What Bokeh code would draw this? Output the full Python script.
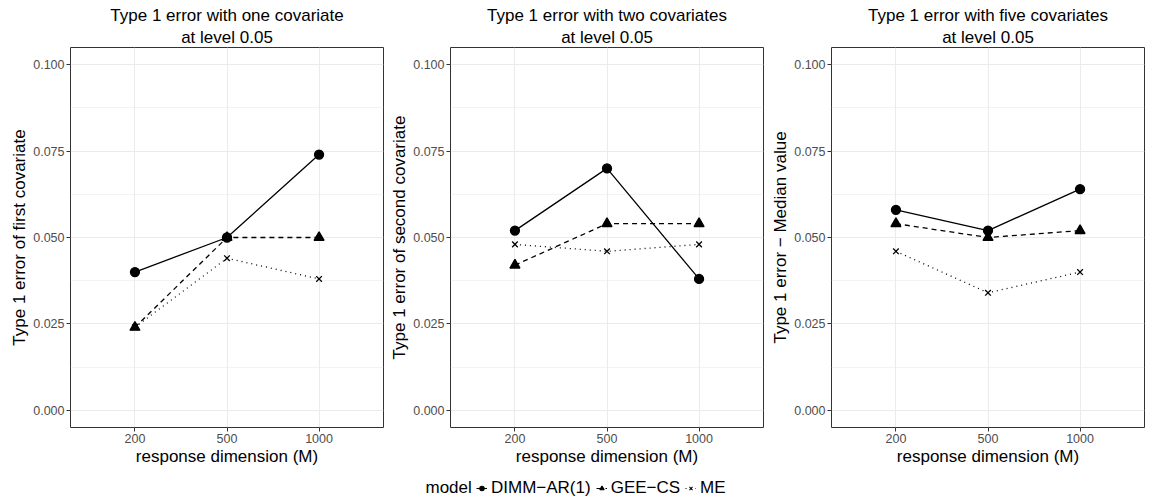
from bokeh.plotting import figure
from bokeh.layouts import row, column
from bokeh.models import (FactorRange, Range1d, FixedTicker, NumeralTickFormatter,
                          Title, Legend, LegendItem, ColumnDataSource, Label)
from bokeh.embed import file_html
from bokeh.resources import INLINE

dims = ["200", "500", "1000"]
models = ["DIMM\u2212AR(1)", "GEE\u2212CS", "ME"]

titles = ["Type 1 error with one covariate",
          "Type 1 error with two covariates",
          "Type 1 error with five covariates"]
subtitle = "at level 0.05"
ylabels = ["Type 1 error of first covariate",
           "Type 1 error of second covariate",
           "Type 1 error \u2212 Median value"]
xlabel = "response dimension (M)"
legend_title = "model"

# values per panel, per model (order of dims)
p1_dimm = [0.040, 0.050, 0.074]
p1_gee = [0.024, 0.050, 0.050]
p1_me = [0.024, 0.044, 0.038]

p2_dimm = [0.052, 0.070, 0.038]
p2_gee = [0.042, 0.054, 0.054]
p2_me = [0.048, 0.046, 0.048]

p3_dimm = [0.058, 0.052, 0.064]
p3_gee = [0.054, 0.050, 0.052]
p3_me = [0.046, 0.034, 0.040]

panels = [[p1_dimm, p1_gee, p1_me],
          [p2_dimm, p2_gee, p2_me],
          [p3_dimm, p3_gee, p3_me]]

yticks = [0.0, 0.025, 0.05, 0.075, 0.1]
yminor = [0.0125, 0.0375, 0.0625, 0.0875]

FONT = "Liberation Sans"
dash_styles = ["solid", "5 4", "1 4"]
markers = ["circle", "triangle", "x"]
msizes = [9, 10, 8]

left_borders = [70, 65, 65]
right_borders = [2, 3, 5]

figs = []
for i in range(3):
    p = figure(x_range=FactorRange(factors=dims, range_padding=0.2, range_padding_units="absolute"),
               y_range=Range1d(-0.005, 0.105),
               frame_width=313, frame_height=380,
               min_border_left=left_borders[i], min_border_right=right_borders[i],
               min_border_top=47, min_border_bottom=46,
               output_backend="svg", toolbar_location=None,
               background_fill_color="white", border_fill_color="white")
    p.add_layout(Title(text=subtitle, align="center", text_font=FONT, text_font_size="17px",
                       text_font_style="normal", text_color="black", standoff=2, offset=0), "above")
    p.add_layout(Title(text=titles[i], align="center", text_font=FONT, text_font_size="17px",
                       text_font_style="normal", text_color="black", standoff=0, offset=0), "above")

    p.outline_line_color = "#333333"
    p.outline_line_width = 1

    p.xgrid.grid_line_color = "#ebebeb"
    p.xgrid.grid_line_width = 1.1
    p.ygrid.grid_line_color = "#ebebeb"
    p.ygrid.grid_line_width = 1.1
    p.ygrid.minor_grid_line_color = "#ebebeb"
    p.ygrid.minor_grid_line_width = 0.6

    p.yaxis.ticker = FixedTicker(ticks=yticks, minor_ticks=yminor)
    p.yaxis.formatter = NumeralTickFormatter(format="0.000")

    for ax in (p.xaxis[0], p.yaxis[0]):
        ax.axis_line_color = None
        ax.major_tick_line_color = "#333333"
        ax.major_tick_out = 4
        ax.major_tick_in = 0
        ax.minor_tick_line_color = None
        ax.major_label_text_font = FONT
        ax.major_label_text_font_size = "12.5px"
        ax.major_label_text_color = "#4d4d4d"
        ax.major_label_standoff = 2
        ax.axis_label_text_font = FONT
        ax.axis_label_text_font_size = "17px"
        ax.axis_label_text_font_style = "normal"
        ax.axis_label_text_color = "black"
        ax.axis_label_standoff = 1
    p.xaxis.axis_label = xlabel
    p.yaxis.axis_label = ylabels[i]

    for j in range(3):
        src = ColumnDataSource(dict(x=dims, y=panels[i][j]))
        p.line("x", "y", source=src, line_color="black", line_width=1.3,
               line_dash=dash_styles[j])
        p.scatter("x", "y", source=src, marker=markers[j], size=msizes[j],
                  fill_color="black", line_color="black", line_width=1.3)
    figs.append(p)

# legend strip below the panels; its renderers hold panel-2 data but lie outside
# this strip's visible y range, so only their legend keys are seen
lf = figure(width=1149, height=28, x_range=FactorRange(factors=dims), y_range=Range1d(1, 2),
            x_axis_type=None, y_axis_type=None, output_backend="svg", toolbar_location=None,
            min_border=0, outline_line_color=None, background_fill_color="white",
            border_fill_color="white")
lf.xgrid.visible = False
lf.ygrid.visible = False
items = []
for j in range(3):
    src = ColumnDataSource(dict(x=dims, y=panels[1][j]))
    lr = lf.line("x", "y", source=src, line_color="black", line_width=1.1,
                 line_dash=dash_styles[j])
    sr = lf.scatter("x", "y", source=src, marker=markers[j], size=msizes[j] - 2,
                    fill_color="black", line_color="black", line_width=1.1)
    items.append(LegendItem(label=models[j], renderers=[lr, sr]))
legend = Legend(items=items, orientation="horizontal", location=(476, 3),
                label_text_font=FONT, label_text_font_size="17px",
                label_text_color="black",
                glyph_width=11, glyph_height=14, label_standoff=4, spacing=5,
                padding=1, margin=0, border_line_color=None, background_fill_alpha=0)
lf.add_layout(legend, "center")
lf.add_layout(Label(x=425, y=14, x_units="screen", y_units="screen", text=legend_title,
                    text_font=FONT, text_font_size="17px", text_color="black",
                    text_baseline="middle", text_align="left"))

layout = column(row(*figs, spacing=0), lf, spacing=0)
open("out.html", "w").write(file_html(layout, INLINE))
